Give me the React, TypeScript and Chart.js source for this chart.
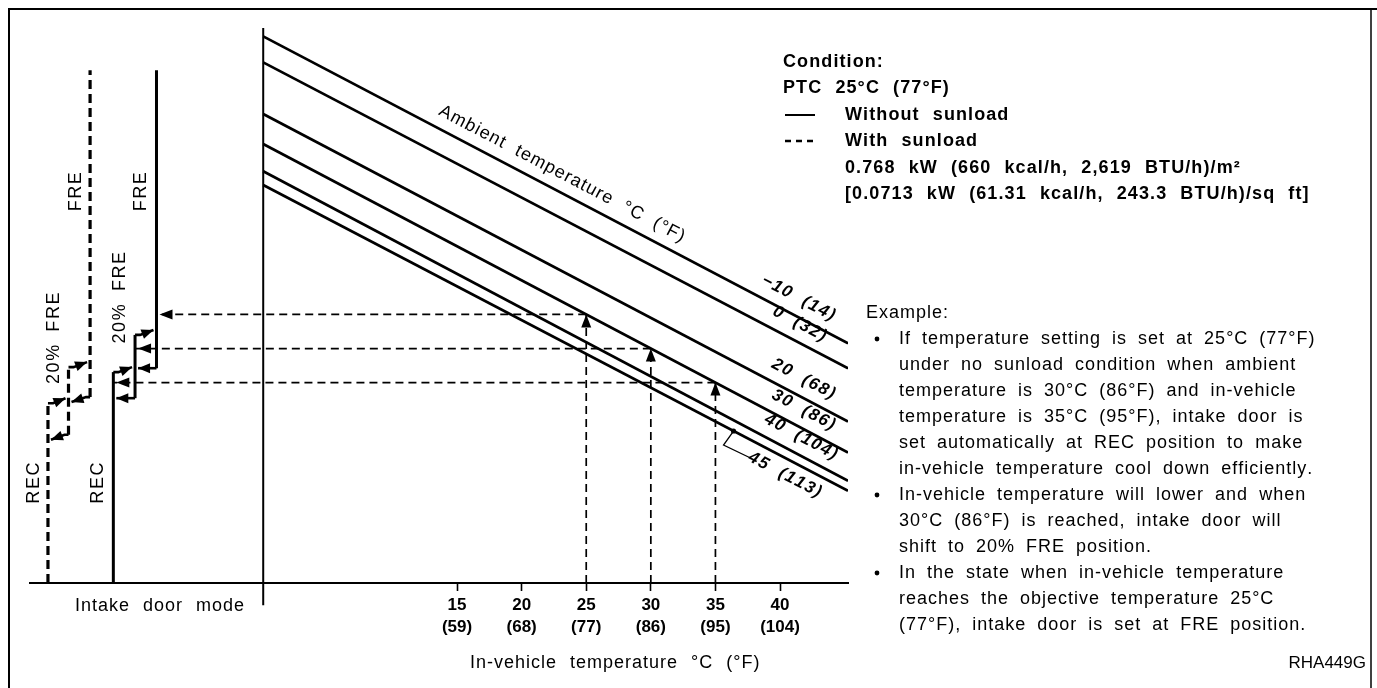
import React, { useEffect, useRef } from 'react';
import { Chart, registerables } from 'chart.js';

Chart.register(...registerables);

const FONT = '"Liberation Sans", Arial, Helvetica, sans-serif';

// ---- In-vehicle temperature axis (°C with °F in brackets) ----
const inVehicleTicksC = [15, 20, 25, 30, 35, 40];
const inVehicleTicksF = ['(59)', '(68)', '(77)', '(86)', '(95)', '(104)'];
const X_MIN = -18.05;
const X_MAX = 45.26;

// ---- Ambient temperature lines (vertical scale is unitless 0–100) ----
const ambientC = [-10, 0, 20, 30, 40, 45];
const ambientF = [14, 32, 68, 86, 104, 113];
const ambientLevelAt0 = [98.5, 93.8, 84.5, 79.1, 74.2, 71.7];
const ambientLevelAtEnd = [43.2, 38.7, 29.1, 23.5, 18.4, 16.6];
const ambientLineEnd = 45.26;
const ambientLabelAt = [40.8, 40.9, 41.2, 41.2, 41.0, 40.9];

// ---- Example (no sunload, ambient 30 °C) ----
const exampleAmbient = 30;
const exampleInVehicle = [25, 30, 35];
const exampleTargetMode = [2, 1, 0]; // FRE, 20% FRE, REC

// ---- Intake door mode columns: REC, 20% FRE, FRE ----
const modeNames = ['REC', '20% FRE', 'FRE'];
const solidModeX = [-11.6, -9.92, -8.26];
const solidModeLow = [0, 33.3, 38.7];
const solidModeHigh = [38.0, 44.7, 92.4];
const solidModeLabelLevel = [18.0, 51.4, 70.5];
const dashedModeX = [-16.66, -15.07, -13.4];
const dashedModeLow = [0, 26.7, 33.5];
const dashedModeHigh = [32.4, 38.9, 92.4];
const dashedModeLabelLevel = [18.0, 44.1, 70.5];

// ---- Texts ----
const legendTitle = ['Condition:', 'PTC 25°C (77°F)'];
const legendSeries = ['Without sunload', 'With sunload'];
const legendNotes = [
  '0.768 kW (660 kcal/h, 2,619 BTU/h)/m²',
  '[0.0713 kW (61.31 kcal/h, 243.3 BTU/h)/sq ft]',
];
const exampleTitle = 'Example:';
const exampleBullets = [
  [
    'If temperature setting is set at 25°C (77°F)',
    'under no sunload condition when ambient',
    'temperature is 30°C (86°F) and in-vehicle',
    'temperature is 35°C (95°F), intake door is',
    'set automatically at REC position to make',
    'in-vehicle temperature cool down efficiently.',
  ],
  [
    'In-vehicle temperature will lower and when',
    '30°C (86°F) is reached, intake door will',
    'shift to 20% FRE position.',
  ],
  [
    'In the state when in-vehicle temperature',
    'reaches the objective temperature 25°C',
    '(77°F), intake door is set at FRE position.',
  ],
];
const ambientTitle = 'Ambient temperature °C (°F)';
const xTitle = 'In-vehicle temperature °C (°F)';
const modeTitle = 'Intake door mode';
const figureId = 'RHA449G';

function ambientLevel(i: number, t: number) {
  return ambientLevelAt0[i] + (ambientLevelAtEnd[i] - ambientLevelAt0[i]) * (t / ambientLineEnd);
}

function spacedWidth(ctx: CanvasRenderingContext2D, text: string, ls: number, ws: number) {
  let w = 0;
  for (const ch of text) w += ctx.measureText(ch).width + ls + (ch === ' ' ? ws : 0);
  return w - ls;
}

function drawSpaced(
  ctx: CanvasRenderingContext2D,
  text: string,
  x: number,
  y: number,
  ls: number,
  ws: number,
  align: 'left' | 'center' | 'right' = 'left'
) {
  const w = spacedWidth(ctx, text, ls, ws);
  let cx = align === 'center' ? x - w / 2 : align === 'right' ? x - w : x;
  ctx.textAlign = 'left';
  for (const ch of text) {
    ctx.fillText(ch, cx, y);
    cx += ctx.measureText(ch).width + ls + (ch === ' ' ? ws : 0);
  }
}

function arrowHead(ctx: CanvasRenderingContext2D, x: number, y: number, angle: number, len = 12, half = 4.5) {
  ctx.save();
  ctx.translate(x, y);
  ctx.rotate(angle);
  ctx.beginPath();
  ctx.moveTo(0, 0);
  ctx.lineTo(-len, -half);
  ctx.lineTo(-len, half);
  ctx.closePath();
  ctx.fill();
  ctx.restore();
}

const exampleAmbientIndex = ambientC.indexOf(exampleAmbient);

function seg(points: { x: number; y: number }[], opts: any = {}) {
  return {
    data: points,
    showLine: true,
    pointRadius: 0,
    borderColor: '#000',
    backgroundColor: '#000',
    borderWidth: 2.5,
    fill: false,
    tension: 0,
    ...opts,
  };
}

function buildDatasets() {
  const ds: any[] = [];
  // vertical axis at 0 °C
  ds.push(seg([{ x: 0, y: 100 }, { x: 0, y: -4 }], { borderWidth: 2, clip: false }));
  // ambient lines
  ambientC.forEach((_, i) => {
    ds.push(seg([{ x: 0, y: ambientLevelAt0[i] }, { x: ambientLineEnd, y: ambientLevelAtEnd[i] }], { borderWidth: 2.7 }));
  });
  // example dashed lines
  exampleInVehicle.forEach((t, i) => {
    const lv = ambientLevel(exampleAmbientIndex, t);
    ds.push(seg([{ x: t, y: 0 }, { x: t, y: lv }], { borderWidth: 1.7, borderDash: [8, 5] }));
    ds.push(seg([{ x: t, y: lv }, { x: solidModeX[exampleTargetMode[i]], y: lv }], { borderWidth: 1.7, borderDash: [8, 5] }));
  });
  // intake door mode columns
  modeNames.forEach((_, i) => {
    ds.push(seg([{ x: solidModeX[i], y: solidModeLow[i] }, { x: solidModeX[i], y: solidModeHigh[i] }], { borderWidth: 3 }));
    ds.push(seg([{ x: dashedModeX[i], y: dashedModeLow[i] }, { x: dashedModeX[i], y: dashedModeHigh[i] }], { borderWidth: 3.2, borderDash: [9, 5] }));
  });
  return ds;
}

const diagramPlugin = {
  id: 'diagram',
  beforeDraw(chart: any) {
    const { ctx, width, height } = chart;
    ctx.save();
    ctx.fillStyle = '#fff';
    ctx.fillRect(0, 0, width, height);
    ctx.restore();
  },
  afterDatasetsDraw(chart: any) {
    const ctx: CanvasRenderingContext2D = chart.ctx;
    const xs = chart.scales.x;
    const ys = chart.scales.y;
    const px = (v: number) => xs.getPixelForValue(v);
    const py = (v: number) => ys.getPixelForValue(v);
    ctx.save();
    ctx.fillStyle = '#000';
    ctx.strokeStyle = '#000';

    // example arrowheads
    exampleInVehicle.forEach((t, i) => {
      const lv = ambientLevel(exampleAmbientIndex, t);
      arrowHead(ctx, px(t), py(lv), -Math.PI / 2, 13, 5);
      arrowHead(ctx, px(solidModeX[exampleTargetMode[i]]) + 3, py(lv), Math.PI, 13, 5);
    });

    // hysteresis connectors
    const connectors = (X: number[], Low: number[], High: number[], dashed: boolean) => {
      for (let i = 0; i < X.length - 1; i++) {
        // up transition
        const x1 = px(X[i]);
        const y1 = py(High[i]);
        const x2 = px(X[i + 1]) - 3;
        const y2 = y1 - 5;
        ctx.lineWidth = 2.6;
        ctx.setLineDash([]);
        ctx.beginPath();
        ctx.moveTo(x1, y1);
        ctx.lineTo(x1 + 5, y1);
        ctx.lineTo(x2, y2);
        ctx.stroke();
        arrowHead(ctx, x2, y2, Math.atan2(y2 - y1, x2 - x1 - 5), 12, 5);
        // down transition
        const x3 = px(X[i + 1]);
        const y3 = py(Low[i + 1]);
        const x4 = px(X[i]) + 3;
        const y4 = y3 + (dashed ? 5 : 0);
        ctx.beginPath();
        ctx.moveTo(x3, y3);
        ctx.lineTo(x3 - 4, y3);
        ctx.lineTo(x4, y4);
        ctx.stroke();
        arrowHead(ctx, x4, y4, Math.atan2(y4 - y3, x4 - (x3 - 4)), 12, 5);
      }
    };
    connectors(solidModeX, solidModeLow, solidModeHigh, false);
    connectors(dashedModeX, dashedModeLow, dashedModeHigh, true);
    ctx.restore();
  },
  afterDraw(chart: any) {
    const ctx: CanvasRenderingContext2D = chart.ctx;
    const xs = chart.scales.x;
    const ys = chart.scales.y;
    const px = (v: number) => xs.getPixelForValue(v);
    const py = (v: number) => ys.getPixelForValue(v);
    ctx.save();
    ctx.fillStyle = '#000';
    ctx.strokeStyle = '#000';
    ctx.textBaseline = 'middle';

    // frame
    ctx.lineWidth = 2;
    ctx.beginPath();
    ctx.moveTo(9, 688);
    ctx.lineTo(9, 9);
    ctx.lineTo(1377, 9);
    ctx.stroke();
    ctx.lineWidth = 1.5;
    ctx.beginPath();
    ctx.moveTo(1371, 9);
    ctx.lineTo(1371, 688);
    ctx.stroke();

    // ambient line geometry
    const lineAngle = (i: number) =>
      Math.atan2(py(ambientLevelAtEnd[i]) - py(ambientLevelAt0[i]), px(ambientLineEnd) - px(0));
    const placeOnLine = (i: number, t: number, offset: number, text: string, font: string, ls: number) => {
      const a = lineAngle(i);
      const x0 = px(t);
      const y0 = py(ambientLevel(i, t));
      const cx = x0 + offset * Math.sin(a);
      const cy = y0 - offset * Math.cos(a);
      ctx.save();
      ctx.font = font;
      ctx.translate(cx, cy);
      ctx.rotate(a);
      drawSpaced(ctx, text, 0, 0, ls, 6, 'center');
      ctx.restore();
    };
    placeOnLine(0, 22.5, 17, ambientTitle, `18px ${FONT}`, 1.1);
    ambientC.forEach((c, i) => {
      const label = `${c < 0 ? '\u2212' + Math.abs(c) : c} (${ambientF[i]})`;
      const last = i === ambientC.length - 1;
      placeOnLine(i, ambientLabelAt[i], last ? -15 : 17, label, `italic bold 17px ${FONT}`, 1.5);
    });
    // leader for the 45 °C line
    {
      const i = ambientC.length - 1;
      const t = 36.4;
      const x0 = px(t);
      const y0 = py(ambientLevel(i, t));
      ctx.beginPath();
      ctx.arc(x0, y0, 2.6, 0, Math.PI * 2);
      ctx.fill();
      ctx.lineWidth = 1.3;
      ctx.beginPath();
      ctx.moveTo(x0, y0);
      ctx.lineTo(x0 - 10, y0 + 14);
      ctx.lineTo(x0 + 17, y0 + 27);
      ctx.stroke();
    }

    // intake door mode labels (rotated)
    const vLabel = (text: string, x: number, y: number) => {
      ctx.save();
      ctx.font = `18px ${FONT}`;
      ctx.translate(x, y);
      ctx.rotate(-Math.PI / 2);
      drawSpaced(ctx, text, 0, 0, 1.6, 5, 'center');
      ctx.restore();
    };
    modeNames.forEach((m, i) => {
      vLabel(m, px(solidModeX[i]) - 15, py(solidModeLabelLevel[i]));
      vLabel(m, px(dashedModeX[i]) - 14, py(dashedModeLabelLevel[i]));
    });

    // axis texts
    ctx.font = `18px ${FONT}`;
    drawSpaced(ctx, modeTitle, 75, 606, 1.0, 7);
    drawSpaced(ctx, xTitle, 470, 663, 1.0, 7);
    ctx.font = `17px ${FONT}`;
    drawSpaced(ctx, figureId, 1366, 663, 0, 0, 'right');

    // legend
    ctx.font = `bold 18px ${FONT}`;
    drawSpaced(ctx, legendTitle[0], 783, 62, 1.1, 7);
    drawSpaced(ctx, legendTitle[1], 783, 88, 1.1, 7);
    drawSpaced(ctx, legendSeries[0], 845, 115, 1.1, 7);
    drawSpaced(ctx, legendSeries[1], 845, 141, 1.1, 7);
    drawSpaced(ctx, legendNotes[0], 845, 168, 1.1, 7);
    drawSpaced(ctx, legendNotes[1], 845, 194, 1.1, 7);
    ctx.lineWidth = 2;
    ctx.beginPath();
    ctx.moveTo(785, 115);
    ctx.lineTo(815, 115);
    ctx.stroke();
    ctx.lineWidth = 2.5;
    ctx.setLineDash([6, 5]);
    ctx.beginPath();
    ctx.moveTo(785, 141);
    ctx.lineTo(816, 141);
    ctx.stroke();
    ctx.setLineDash([]);

    // example text
    ctx.font = `18px ${FONT}`;
    drawSpaced(ctx, exampleTitle, 866, 313, 1.0, 6);
    let row = 0;
    exampleBullets.forEach((lines) => {
      lines.forEach((ln, j) => {
        const y = 339 + row * 26;
        if (j === 0) {
          ctx.beginPath();
          ctx.arc(877, y, 2.4, 0, Math.PI * 2);
          ctx.fill();
        }
        drawSpaced(ctx, ln, 899, y, 1.0, 5);
        row++;
      });
    });
    ctx.restore();
  },
};

export default function App() {
  const ref = useRef<HTMLCanvasElement>(null);
  useEffect(() => {
    const canvas = ref.current;
    if (!canvas) return;
    const chart = new Chart(canvas, {
      type: 'scatter',
      data: { datasets: buildDatasets() },
      options: {
        responsive: false,
        animation: false,
        events: [],
        devicePixelRatio: 1,
        layout: { padding: { left: 30, right: 1377 - 848, top: 28, bottom: 0 } },
        plugins: { legend: { display: false }, tooltip: { enabled: false }, title: { display: false } },
        scales: {
          x: {
            type: 'linear',
            position: 'bottom',
            min: X_MIN,
            max: X_MAX,
            afterBuildTicks: (scale: any) => {
              scale.ticks = inVehicleTicksC.map((v) => ({ value: v }));
            },
            afterFit: (scale: any) => {
              scale.height = 688 - 583;
            },
            ticks: {
              autoSkip: false,
              maxRotation: 0,
              color: '#000',
              padding: 4,
              font: { family: FONT, size: 17, weight: 'bold', lineHeight: 1.25 },
              callback: (v: any) => {
                const i = inVehicleTicksC.indexOf(Number(v));
                return i >= 0 ? [String(v), inVehicleTicksF[i]] : '';
              },
            },
            grid: {
              display: true,
              drawOnChartArea: false,
              drawTicks: true,
              tickLength: 8,
              tickWidth: 1.6,
              tickColor: '#000',
              color: '#000',
            },
            border: { display: true, color: '#000', width: 2 },
          },
          y: { type: 'linear', min: 0, max: 100, display: false },
        },
      } as any,
      plugins: [diagramPlugin as any],
    });
    return () => chart.destroy();
  }, []);
  return (
    <div style={{ position: 'fixed', left: 0, top: 0, width: 1377, height: 688, background: '#fff' }}>
      <canvas ref={ref} width={1377} height={688} style={{ display: 'block', width: 1377, height: 688 }} />
    </div>
  );
}
